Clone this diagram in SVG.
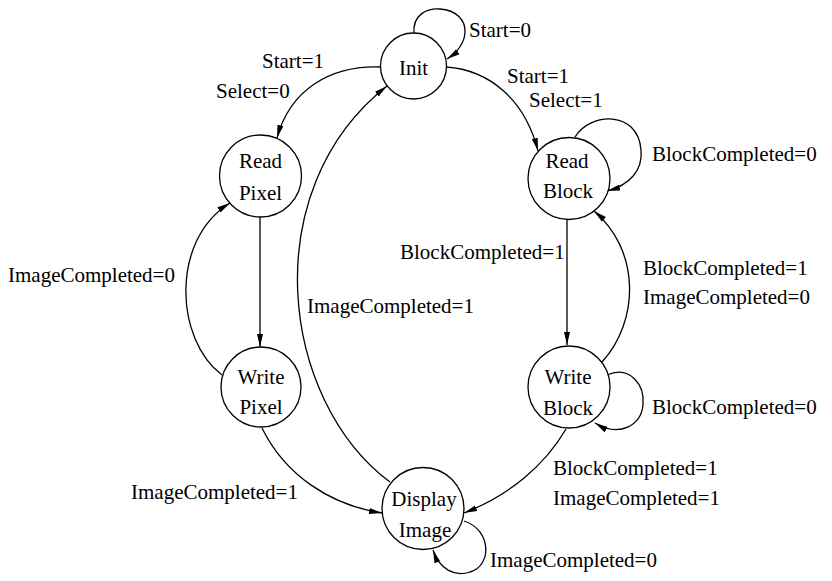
<svg xmlns="http://www.w3.org/2000/svg" width="832" height="581" viewBox="0 0 832 581">
<style>
.n{fill:#fff;stroke:#000;stroke-width:1.3}
.t{font-family:'Liberation Serif','DejaVu Serif',serif;font-size:21px;fill:#000}
.c{text-anchor:middle}
.e{fill:none;stroke:#000;stroke-width:1.3;marker-end:url(#a)}
</style>
<defs>
<marker id="a" viewBox="0 0 13 8" refX="13" refY="4" markerWidth="13" markerHeight="8" orient="auto" markerUnits="userSpaceOnUse"><path d="M0,1 L13,4 L0,7 z" fill="#000"/></marker>
</defs>
<rect width="832" height="581" fill="#fff"/>
<g id="connectors">
<path class="e" d="M414,34 C412,14 428,8 440,9 C456,10 466,20 465,33 C464,44 456,53 447,59"/>
<path class="e" d="M381,67 C330,65 290,90 277,138"/>
<path class="e" d="M446,67 C490,70 525,100 538,151"/>
<path class="e" d="M575,137 C590,112 638,110 641,150 C643,170 630,185 607,191"/>
<path class="e" d="M260,217 L260,347"/>
<path class="e" d="M222,375 C175,340 170,240 230,203"/>
<path class="e" d="M390,482 C280,400 255,190 387,86"/>
<path class="e" d="M567,220 L567,345"/>
<path class="e" d="M602,362 C640,320 640,250 594,211"/>
<path class="e" d="M607,375 C630,365 645,385 643,405 C641,425 620,438 595,423"/>
<path class="e" d="M566,429 C545,465 510,495 464,513"/>
<path class="e" d="M262,428 C285,475 330,505 382,513"/>
<path class="e" d="M464,521 C492,530 492,566 470,572 C455,577 440,570 433,550"/>
</g>
<g id="labels" font-family="Liberation Serif, DejaVu Serif, serif">
<text class="t" x="469" y="37">Start=0</text>
<text class="t" x="262" y="68">Start=1</text>
<text class="t" x="216" y="98">Select=0</text>
<text class="t" x="507" y="83">Start=1</text>
<text class="t" x="529" y="107">Select=1</text>
<text class="t" x="652" y="161">BlockCompleted=0</text>
<text class="t" x="400" y="259">BlockCompleted=1</text>
<text class="t" x="8" y="282">ImageCompleted=0</text>
<text class="t" x="307" y="313">ImageCompleted=1</text>
<text class="t" x="643" y="275">BlockCompleted=1</text>
<text class="t" x="643" y="304">ImageCompleted=0</text>
<text class="t" x="652" y="414">BlockCompleted=0</text>
<text class="t" x="553" y="475">BlockCompleted=1</text>
<text class="t" x="553" y="505">ImageCompleted=1</text>
<text class="t" x="131" y="499">ImageCompleted=1</text>
<text class="t" x="490" y="567">ImageCompleted=0</text>
</g>
<g id="init"><circle class="n" cx="413.5" cy="66" r="33"/><text class="t c" x="413.5" y="75">Init</text></g>
<g id="read-pixel"><circle class="n" cx="260.5" cy="176" r="41"/><text class="t c" x="260.5" y="168">Read</text><text class="t c" x="260.5" y="200">Pixel</text></g>
<g id="read-block"><circle class="n" cx="569" cy="178.5" r="41"/><text class="t c" x="567" y="168">Read</text><text class="t c" x="568" y="198">Block</text></g>
<g id="write-pixel"><circle class="n" cx="261" cy="387" r="40"/><text class="t c" x="261" y="384">Write</text><text class="t c" x="261" y="414">Pixel</text></g>
<g id="write-block"><circle class="n" cx="569" cy="387" r="41"/><text class="t c" x="568" y="384">Write</text><text class="t c" x="568" y="415">Block</text></g>
<g id="display-image"><circle class="n" cx="423" cy="508.5" r="41"/><text class="t c" x="424" y="506">Display</text><text class="t c" x="425" y="537">Image</text></g>
</svg>
